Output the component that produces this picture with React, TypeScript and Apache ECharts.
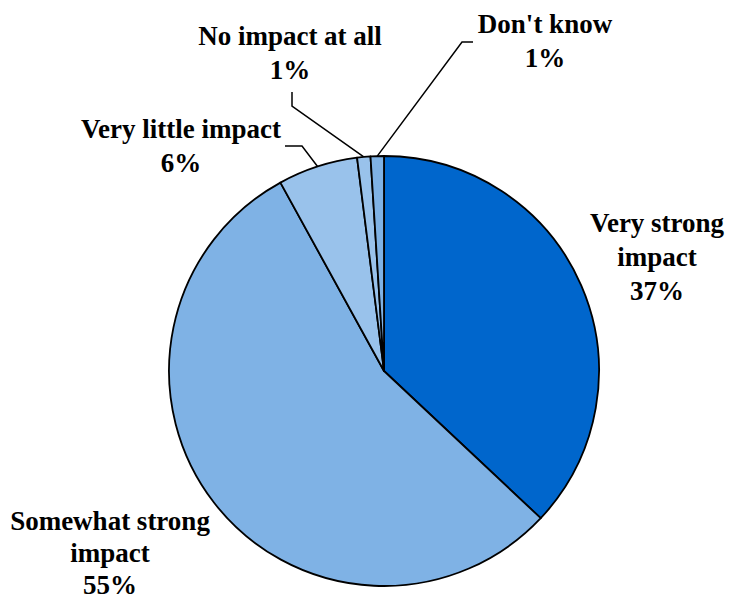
import React, { useEffect, useRef } from "react";
import * as echarts from "echarts";

const categories = [
  "Very strong impact",
  "Somewhat strong impact",
  "Very little impact",
  "No impact at all",
  "Don't know",
];
const labelLines = [
  "Very strong\nimpact",
  "Somewhat strong\nimpact",
  "Very little impact",
  "No impact at all",
  "Don't know",
];
const values = [37, 55, 6, 1, 1];
const colors = ["#0066CC", "#7FB2E5", "#99C2EB", "#99C2EB", "#7FB2E5"];

// layout only: label centers, line heights and leader elbows (px in chart)
const labelPos = [
  [657, 257],
  [110, 553],
  [181, 146],
  [290, 53],
  [545, 41],
];
const labelLineHeight = [34, 32, 34, 34, 34];
const leader: (number[][] | null)[] = [
  null,
  null,
  [[302, 146], [285, 146]],
  [[292, 106], [292, 92]],
  [[462, 42], [473, 42]],
];

const FONT = "'Liberation Serif', 'Times New Roman', serif";

export default function App() {
  const ref = useRef<HTMLDivElement>(null);
  useEffect(() => {
    if (!ref.current) return;
    const chart = echarts.init(ref.current, null, { renderer: "svg" });
    chart.setOption({
      animation: false,
      backgroundColor: "#ffffff",
      textStyle: { fontFamily: FONT },
      series: [
        {
          type: "pie",
          center: [384, 371],
          radius: 215,
          startAngle: 90,
          clockwise: true,
          avoidLabelOverlap: false,
          itemStyle: { borderColor: "#000000", borderWidth: 1.8 },
          label: {
            show: true,
            position: "outside",
            color: "#000000",
            fontFamily: FONT,
            fontWeight: "bold",
            fontSize: 27,
            lineHeight: 34,
            align: "center",
            formatter: (p: any) => labelLines[p.dataIndex] + "\n" + p.value + "%",
          },
          labelLine: {
            show: true,
            lineStyle: { color: "#000000", width: 1.5 },
          },
          labelLayout: (params: any) => {
            const i = params.dataIndex;
            const res: any = {
              x: labelPos[i][0],
              y: labelPos[i][1],
              align: "center",
              verticalAlign: "middle",
            };
            const l = leader[i];
            if (l && params.labelLinePoints) {
              res.labelLinePoints = [params.labelLinePoints[0], l[0], l[1]];
            }
            return res;
          },
          data: categories.map((name, i) => ({
            name,
            value: values[i],
            itemStyle: { color: colors[i] },
            label: { lineHeight: labelLineHeight[i] },
            labelLine: { show: leader[i] !== null },
          })),
        },
      ],
    });
    return () => chart.dispose();
  }, []);
  return (
    <div
      ref={ref}
      style={{ position: "fixed", left: 0, top: 0, width: 730, height: 602 }}
    />
  );
}
